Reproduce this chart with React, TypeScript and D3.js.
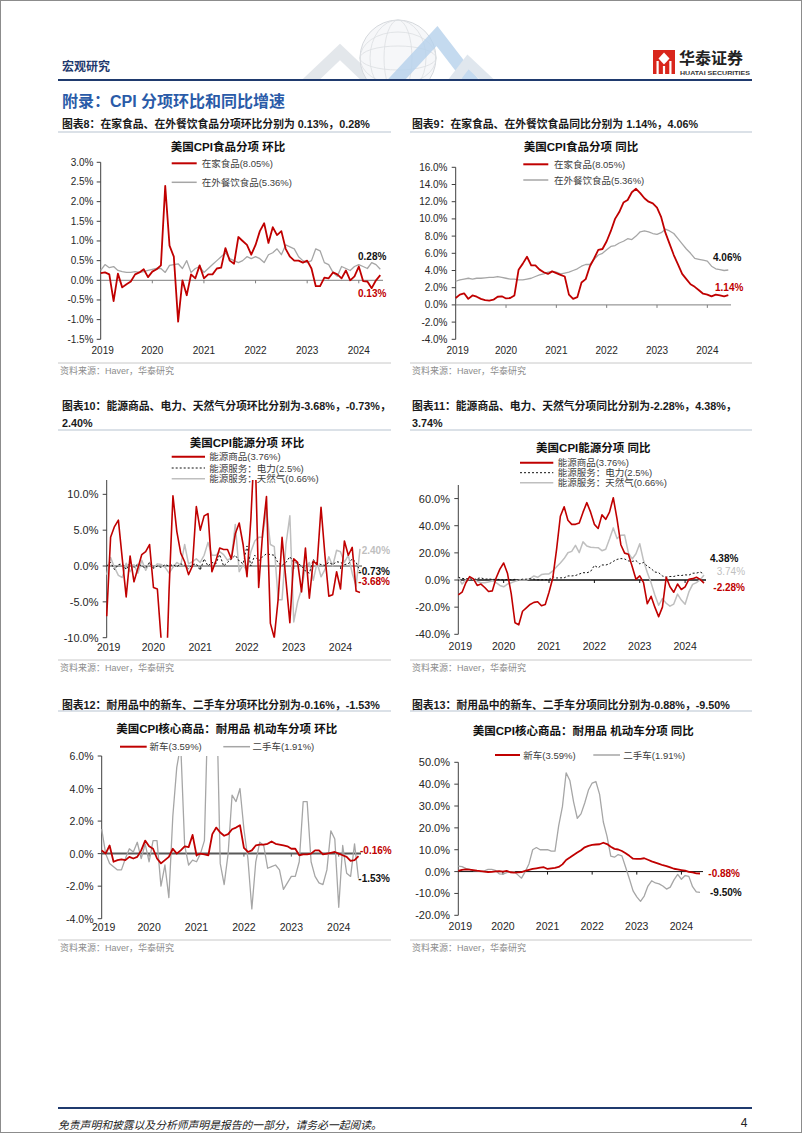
import React from 'react';
import * as d3 from 'd3';

// ---------------- DATA ----------------
const N = 66; // Jan 2019 .. Jun 2024 (monthly)
const YEAR_LABELS = ['2019', '2020', '2021', '2022', '2023', '2024'];

// Chart 8: food MoM (%)
const foodHomeMoM = [
  0.18, 0.2, 0.15, -0.53, 0.17, -0.18, -0.1, -0.03, 0.15, 0.2, 0.28, 0.08,
  0.22, 0.28, 0.38, 2.4, 0.88, 0.6, -1.05, 0.0, -0.38, 0.15, 0.05, 0.38,
  0.05, 0.15, 0.15, 0.3, 0.32, 0.82, 0.5, 0.42, 1.1, 1.0, 0.9, 0.65,
  0.9, 1.25, 1.45, 0.95, 1.35, 1.15, 1.25, 0.8, 0.6, 0.5, 0.5, 0.45,
  0.5, 0.3, -0.15, -0.15, 0.07, 0.05, 0.2, 0.15, 0.05, 0.25, 0.0, 0.1,
  0.35, -0.02, -0.03, -0.2, 0.0, 0.13,
];
const foodAwayMoM = [
  0.25, 0.4, 0.32, 0.35, 0.25, 0.22, 0.2, 0.2, 0.22, 0.2, 0.22, 0.25,
  0.28, 0.3, 0.3, 0.2, 0.38, 0.4, 0.42, 0.3, 0.5, 0.2, 0.3, 0.35,
  0.2, 0.3, 0.4, 0.5, 0.6, 0.7, 0.55, 0.5, 0.45, 0.5, 0.6, 0.55,
  0.6, 0.55, 0.45, 0.65, 0.7, 0.8, 0.65, 0.9, 0.85, 0.8, 0.6, 0.5,
  0.45, 0.5, 0.8, 0.75, 0.45, 0.4, 0.2, 0.1, 0.35, 0.3, 0.25, 0.35,
  0.4, 0.35, 0.3, 0.45, 0.4, 0.28,
];

// Chart 9: food YoY (%)
const foodHomeYoY = [
  0.8, 1.2, 1.35, 0.7, 1.1, 0.95, 0.7, 0.55, 0.5, 0.6, 0.95, 1.0,
  0.75, 0.8, 1.1, 4.1, 4.8, 5.6, 4.6, 4.6, 4.1, 3.8, 3.6, 3.9,
  3.7, 3.5, 3.3, 1.2, 0.7, 0.9, 2.6, 3.0, 4.5, 5.4, 6.4, 6.5,
  7.4, 8.6, 10.0, 10.8, 11.9, 12.2, 13.1, 13.5, 13.0, 12.4, 12.0, 11.8,
  11.3, 10.2, 8.4, 7.1, 5.8, 4.7, 3.6, 3.0, 2.4, 2.1, 1.7, 1.3,
  1.2, 1.0, 1.2, 1.1, 1.0, 1.14,
];
const foodAwayYoY = [
  2.75, 2.9, 3.0, 3.1, 3.0, 3.1, 3.1, 3.15, 3.2, 3.2, 3.3, 3.2,
  3.1, 3.0, 3.0, 2.9, 2.9, 3.0, 3.1, 3.3, 3.5, 3.6, 3.8, 3.9,
  3.8, 3.6, 3.7, 3.8, 4.0, 4.2, 4.5, 4.7, 4.7, 5.3, 5.8, 6.0,
  6.4, 6.8, 6.9, 7.2, 7.4, 7.7, 7.6, 8.0, 8.5, 8.6, 8.5, 8.3,
  8.2, 8.4, 8.8, 8.6, 8.3, 7.7, 7.1, 6.5, 6.0, 5.4, 5.3, 5.2,
  5.1, 4.5, 4.2, 4.1, 4.0, 4.06,
];

// Chart 10: energy MoM (%)
const energyGoodsMoM = [
  -7.0, 4.0, 5.5, 6.4, 1.0, -4.3, 1.4, -2.2, -0.3, 1.6, 2.0, 3.0,
  -3.0, -3.2, -10.5, -20.0, -3.5, 9.8, 4.8, 1.8, 0.6, -1.2, 0.0, 8.3,
  5.0, 7.0, 7.3, -0.8, 0.7, 2.5, 2.3, 2.3, 1.0, 4.5, 6.0, 3.0,
  -1.5, 6.6, 18.0, -3.0, 4.5, 9.7, -8.0, -10.0, -4.6, 4.0, -2.0, -7.9,
  1.0, 0.5, -3.6, 2.5, -4.5, 0.7, 0.2, 8.2, 1.5, -4.2, -4.0, -0.8,
  -3.2, 3.5, 1.5, 2.6, -3.5, -3.68,
];
const electricityMoM = [
  0.0, 0.5, -0.5, 0.2, 0.3, -0.5, 0.5, -0.2, 0.3, 0.0, -0.3, 0.5,
  -0.3, 0.0, -0.2, 0.2, 0.0, 0.2, -0.1, 0.3, 0.1, -0.4, 0.2, 0.3,
  -0.6, 1.0, 0.0, 0.5, 0.3, 1.6, 0.0, 0.5, 1.0, 1.5, 0.7, 0.3,
  2.8, 0.0, 1.5, 0.7, 1.3, 1.7, 1.6, 1.5, 0.4, 0.1, 0.5, 1.3,
  0.5, 0.4, 0.0, -0.7, -1.0, 0.9, 0.4, 0.2, 0.1, 0.5, 0.2, 0.6,
  0.5, 0.2, 0.3, 1.0, 0.5, -0.73,
];
const natGasMoM = [
  -1.2, 1.2, -0.2, -1.3, -1.6, 0.4, -0.8, 0.2, -1.0, 0.8, -0.6, 0.5,
  -0.3, 0.3, 0.2, -0.2, -1.0, -0.2, 0.5, 0.1, 3.0, 0.3, 0.6, 1.0,
  0.5, 1.5, 3.3, 1.5, 1.5, 2.0, 1.6, 0.8, 1.2, 5.8, -0.8, 0.2,
  -0.7, 2.0, 3.5, 4.0, 4.0, 8.0, 3.0, 2.7, -4.7, -4.7, 3.0, 7.0,
  -7.8, -5.0, -3.2, -0.2, 0.5, -2.0, 0.5, -1.5, -0.5, 1.3, 0.0, 2.2,
  2.0, 0.5, 1.5, -1.0, -2.8, 2.4,
];

// Chart 11: energy YoY (%)
const energyGoodsYoY = [
  -11.0, -9.0, -2.0, 2.5, 0.8, -4.0, -3.0, -5.5, -8.5, -8.0, 1.5, 8.0,
  12.5, 5.0, -10.0, -31.5, -33.0, -23.0, -20.5, -18.0, -16.5, -16.0, -19.0, -18.0,
  -9.0, 1.5, 22.5, 47.0, 54.0, 44.0, 41.0, 41.0, 42.0, 50.0, 57.0, 50.0,
  41.0, 38.0, 48.0, 44.7, 50.0, 60.6, 44.9, 26.0, 19.8, 19.0, 10.0, 0.5,
  3.0, -2.0, -17.5, -12.0, -20.0, -27.0, -20.0, 2.0, -5.0, -9.0, -3.0, -7.0,
  -5.0, 0.5, 1.0, 2.0, 0.5, -2.28,
];
const electricityYoY = [
  2.0, 1.2, 0.9, 1.0, 0.2, 1.1, 1.6, 0.6, 0.8, 0.5, 0.5, 0.4,
  0.0, 0.5, 0.2, 0.5, 0.0, 0.6, 0.6, 0.9, 0.6, 0.2, 0.2, 0.2,
  0.4, 2.4, 1.5, 1.6, 1.6, 3.0, 3.0, 3.3, 4.4, 5.4, 5.3, 6.3,
  10.7, 9.0, 11.1, 11.0, 12.0, 13.7, 15.2, 15.8, 15.5, 14.1, 13.7, 14.3,
  11.9, 12.9, 10.2, 8.4, 5.9, 5.4, 3.0, 2.1, 2.6, 2.6, 3.4, 3.3,
  3.8, 3.6, 5.0, 5.1, 5.9, 4.38,
];
const natGasYoY = [
  2.0, -3.0, 0.0, 0.5, 0.5, -1.0, -2.0, -2.0, -1.5, -0.5, -2.0, -4.0,
  -5.0, -3.0, -2.0, -1.0, 0.0, 0.0, 0.0, 1.0, 3.0, 2.0, 4.0, 4.5,
  4.5, 6.7, 9.8, 12.6, 15.8, 20.1, 21.1, 25.5, 20.2, 28.1, 25.1, 24.1,
  23.9, 23.8, 21.6, 22.7, 30.2, 38.4, 30.5, 33.0, 33.1, 20.0, 15.5, 19.3,
  26.7, 14.3, 5.5, -2.1, -11.0, -18.6, -13.7, -17.1, -19.3, -17.7, -10.4, -14.8,
  -17.8, -8.8, -3.2, -1.9, 0.2, 3.74,
];

// Chart 12: vehicles MoM (%)
const newCarMoM = [
  0.2, 0.0, 0.5, -0.5, -0.4, -0.35, -0.4, -0.2, -0.3, -0.2, 0.2, 0.8,
  0.45, 0.3, -0.3, -0.6, -0.4, -0.2, 0.3, 0.0, 0.2, 0.45, 0.4, 1.15,
  -0.1, 0.0, -0.05, -0.1, 1.2, 1.6, 1.3, 1.1, 1.2, 1.5, 1.6, 1.75,
  0.35, 0.1, 0.2, 0.5, 0.55, 0.55, 0.6, 0.75, 0.6, 0.55, 0.5, 0.45,
  0.3, 0.3, -0.1, -0.05, -0.05, 0.0, 0.2, 0.2, -0.05, 0.0, 0.05, 0.1,
  0.0, -0.1, -0.2, -0.45, -0.4, -0.16,
];
const usedCarMoM = [
  1.5, 0.0, -0.6, -0.8, -1.0, -1.0, -0.3, 0.3, 0.1, 0.7, -0.3, 0.6,
  -0.5, 0.8, 0.8, -2.0, -0.7, -2.7, 2.3, 5.3, 6.7, 0.5, -0.7, -0.4,
  -0.5, 0.0, 0.8, 10.0, 7.3, 10.5, -0.6, -1.9, 0.0, 3.6, 3.2, 4.0,
  1.5, -0.3, -3.4, -0.5, 0.7, 0.5, -0.9, -0.8, -0.7, -1.0, -2.2, -1.8,
  -1.4, -1.4, -0.5, 3.2, 3.2, -0.5, -1.4, -1.8, -1.9, -1.0, 1.4, 0.9,
  -3.3, 0.5, -1.2, -1.4, 0.6, -1.53,
];

// Chart 13: vehicles YoY (%)
const newCarYoY = [
  0.3, 0.8, 1.0, 0.9, 0.7, 0.4, 0.2, 0.0, -0.2, -0.1, 0.1, 0.2,
  0.0, 0.3, -0.3, -0.5, -0.4, -0.2, 0.3, 0.8, 1.2, 1.5, 1.8, 2.0,
  1.2, 1.5, 1.7, 2.1, 3.3, 5.3, 6.4, 7.6, 8.7, 9.8, 11.1, 11.8,
  12.2, 12.4, 12.5, 13.2, 12.6, 11.4, 10.4, 10.1, 9.4, 8.4, 7.2, 5.9,
  5.8, 5.8, 6.1, 5.4, 4.7, 4.1, 3.5, 2.9, 2.5, 1.9, 1.3, 1.0,
  0.7, 0.4, -0.1, -0.4, -0.8, -0.88,
];
const usedCarYoY = [
  2.5, 2.3, 1.5, 1.0, 0.5, 0.3, 0.0, 0.3, 1.0, 1.0, 0.5, -1.0,
  -1.2, -0.5, 0.0, 0.0, -1.5, -3.0, 0.0, 3.5, 10.0, 11.0, 10.0, 10.0,
  10.0, 9.4, 9.4, 21.0, 29.7, 45.2, 41.7, 31.9, 24.4, 26.4, 31.4, 37.3,
  40.5, 41.2, 35.3, 22.7, 16.1, 7.1, 6.6, 7.8, 7.2, 2.0, -3.3, -8.8,
  -11.6, -13.6, -11.2, -6.6, -4.2, -5.2, -5.6, -6.6, -8.0, -7.1, -3.8, -1.3,
  -3.5, -1.8, -2.2, -6.9, -9.3, -9.5,
];

// Tick values
const ticks8 = [-1.5, -1.0, -0.5, 0, 0.5, 1.0, 1.5, 2.0, 2.5, 3.0];
const ticks9 = [-4, -2, 0, 2, 4, 6, 8, 10, 12, 14, 16];
const ticks10 = [-10, -5, 0, 5, 10];
const ticks11 = [-40, -20, 0, 20, 40, 60];
const ticks12 = [-4, -2, 0, 2, 4, 6];
const ticks13 = [-20, -10, 0, 10, 20, 30, 40, 50];

// ---------------- STYLE ----------------
const RED = '#c00000';
const GRAY = '#a6a6a6';
const LGRAY = '#bfbfbf';
const NAVY = '#1f3a6e';
const MIX = "'Liberation Sans', Arial, 'Noto Sans CJK SC', sans-serif";
const CJK = "'Noto Sans CJK SC', 'Liberation Sans', sans-serif";

type Series = { data: number[]; color: string; width: number; dash?: string };
type Legend = { label: string; color: string; width: number; dash?: string; lx1: number; lx2: number; ly: number; tx: number };
type EndLabel = { text: string; x: number; y: number; color: string; weight?: string };
type Cfg = {
  id: string;
  x0: number; x1: number; zeroEnd: number;
  yDomain: [number, number]; yBottom: number; yTop: number;
  ticks: number[]; tickRight: number; tickSize: number;
  xLabelY: number; xLabelSize: number;
  zero: { color: string; width: number };
  series: Series[];
  legends: Legend[];
  title: string; titleX: number; titleY: number;
  ends: EndLabel[];
  endSize: number;
};

function Chart({ c }: { c: Cfg }) {
  const x = d3.scaleLinear().domain([0, N - 1]).range([c.x0, c.x1]);
  const y = d3.scaleLinear().domain(c.yDomain).range([c.yBottom, c.yTop]);
  const line = d3.line<number>().x((_, i) => x(i)).y((d) => y(d));
  const clipId = `clip-${c.id}`;
  const y0 = y(0);
  return (
    <g>
      <defs>
        <clipPath id={clipId}>
          <rect x={c.x0 - 1} y={c.yTop} width={c.x1 - c.x0 + 6} height={c.yBottom - c.yTop} />
        </clipPath>
      </defs>
      <text x={c.titleX} y={c.titleY} textAnchor="middle" dominantBaseline="central"
        fontSize={11.5} fontWeight="bold" fontFamily={MIX} fill="#111">{c.title}</text>
      {c.legends.map((l, i) => (
        <g key={i}>
          <line x1={l.lx1} x2={l.lx2} y1={l.ly} y2={l.ly} stroke={l.color} strokeWidth={l.width} strokeDasharray={l.dash} />
          <text x={l.tx} y={l.ly} dominantBaseline="central" fontSize={9.5} fontFamily={MIX} fill="#404040">{l.label}</text>
        </g>
      ))}
      {c.ticks.map((t) => (
        <g key={t}>
          <line x1={c.x0 - 4} x2={c.x0} y1={y(t)} y2={y(t)} stroke="#404040" strokeWidth={1} />
          <text x={c.tickRight} y={y(t)} textAnchor="end" dominantBaseline="central"
            fontSize={c.tickSize} fontFamily={MIX} fill="#262626">{t.toFixed(1) + '%'}</text>
        </g>
      ))}
      <line x1={c.x0} x2={c.x0} y1={c.yTop} y2={c.yBottom} stroke="#404040" strokeWidth={1} />
      <line x1={c.x0} x2={c.zeroEnd} y1={y0} y2={y0} stroke={c.zero.color} strokeWidth={c.zero.width} />
      {YEAR_LABELS.map((lab, k) => (
        <g key={lab}>
          {k > 0 && <line x1={x(12 * k)} x2={x(12 * k)} y1={y0} y2={y0 + 3} stroke={c.zero.color} strokeWidth={1} />}
          <text x={x(12 * k) + (k === 0 ? 2 : 0)} y={c.xLabelY} textAnchor="middle" dominantBaseline="central"
            fontSize={c.xLabelSize} fontFamily={MIX} fill="#262626">{lab}</text>
        </g>
      ))}
      <g clipPath={`url(#${clipId})`}>
        {c.series.map((s, i) => (
          <path key={i} d={line(s.data) || ''} fill="none" stroke={s.color} strokeWidth={s.width}
            strokeDasharray={s.dash} strokeLinejoin="round" />
        ))}
      </g>
      {c.ends.map((e, i) => (
        <text key={i} x={e.x} y={e.y} dominantBaseline="central" fontSize={c.endSize}
          fontWeight={e.weight || 'bold'} fontFamily={MIX} fill={e.color}>{e.text}</text>
      ))}
    </g>
  );
}

const charts: Cfg[] = [
  {
    id: 'c8', x0: 100.7, x1: 380.3, zeroEnd: 383, yDomain: [-1.5, 3], yBottom: 339.3, yTop: 162.3,
    ticks: ticks8, tickRight: 93.5, tickSize: 10, xLabelY: 350, xLabelSize: 10,
    zero: { color: '#7f7f7f', width: 1 },
    series: [
      { data: foodAwayMoM, color: GRAY, width: 1.3 },
      { data: foodHomeMoM, color: RED, width: 1.8 },
    ],
    legends: [
      { label: '在家食品(8.05%)', color: RED, width: 2, lx1: 171.7, lx2: 196.7, ly: 163.3, tx: 201.7 },
      { label: '在外餐饮食品(5.36%)', color: GRAY, width: 1.5, lx1: 171.7, lx2: 196.7, ly: 182.3, tx: 201.7 },
    ],
    title: '美国CPI食品分项 环比', titleX: 228, titleY: 146.7,
    ends: [
      { text: '0.28%', x: 358, y: 256.7, color: '#111' },
      { text: '0.13%', x: 358, y: 293.3, color: RED },
    ],
    endSize: 10,
  },
  {
    id: 'c9', x0: 455.7, x1: 728.3, zeroEnd: 731, yDomain: [-4, 16], yBottom: 339.3, yTop: 167.3,
    ticks: ticks9, tickRight: 447.5, tickSize: 10, xLabelY: 350, xLabelSize: 10,
    zero: { color: '#7f7f7f', width: 1 },
    series: [
      { data: foodAwayYoY, color: GRAY, width: 1.3 },
      { data: foodHomeYoY, color: RED, width: 1.8 },
    ],
    legends: [
      { label: '在家食品(8.05%)', color: RED, width: 2, lx1: 523.3, lx2: 548.3, ly: 164.3, tx: 554 },
      { label: '在外餐饮食品(5.36%)', color: GRAY, width: 1.5, lx1: 523.3, lx2: 548.3, ly: 180, tx: 554 },
    ],
    title: '美国CPI食品分项 同比', titleX: 581, titleY: 146.7,
    ends: [
      { text: '4.06%', x: 713, y: 257.7, color: '#111' },
      { text: '1.14%', x: 715, y: 287.3, color: RED },
    ],
    endSize: 10,
  },
  {
    id: 'c10', x0: 106.7, x1: 360, zeroEnd: 362, yDomain: [-10, 12], yBottom: 637.7, yTop: 480,
    ticks: ticks10, tickRight: 98.5, tickSize: 11, xLabelY: 647, xLabelSize: 10.5,
    zero: { color: '#404040', width: 1 },
    series: [
      { data: natGasMoM, color: LGRAY, width: 1.5 },
      { data: electricityMoM, color: '#111', width: 1, dash: '2,2' },
      { data: energyGoodsMoM, color: RED, width: 1.6 },
    ],
    legends: [
      { label: '能源商品(3.76%)', color: RED, width: 2, lx1: 171.7, lx2: 205, ly: 456.7, tx: 209.3 },
      { label: '能源服务：电力(2.5%)', color: '#111', width: 1, dash: '2,2', lx1: 171.7, lx2: 205, ly: 468, tx: 209.3 },
      { label: '能源服务：天然气(0.66%)', color: LGRAY, width: 1.5, lx1: 171.7, lx2: 205, ly: 478.7, tx: 209.3 },
    ],
    title: '美国CPI能源分项 环比', titleX: 247, titleY: 443.3,
    ends: [
      { text: '2.40%', x: 361.7, y: 550, color: LGRAY },
      { text: '-0.73%', x: 358.3, y: 571.7, color: '#111' },
      { text: '-3.68%', x: 358.3, y: 581.7, color: RED },
    ],
    endSize: 10,
  },
  {
    id: 'c11', x0: 458.3, x1: 704, zeroEnd: 706, yDomain: [-40, 70], yBottom: 634.3, yTop: 485,
    ticks: ticks11, tickRight: 450, tickSize: 11, xLabelY: 646, xLabelSize: 10.5,
    zero: { color: '#111', width: 1.3 },
    series: [
      { data: natGasYoY, color: LGRAY, width: 1.5 },
      { data: electricityYoY, color: '#111', width: 1, dash: '2,2' },
      { data: energyGoodsYoY, color: RED, width: 1.6 },
    ],
    legends: [
      { label: '能源商品(3.76%)', color: RED, width: 2, lx1: 520, lx2: 553.3, ly: 462.7, tx: 557.7 },
      { label: '能源服务：电力(2.5%)', color: '#111', width: 1, dash: '2,2', lx1: 520, lx2: 553.3, ly: 472.7, tx: 557.7 },
      { label: '能源服务：天然气(0.66%)', color: LGRAY, width: 1.5, lx1: 520, lx2: 553.3, ly: 482.7, tx: 557.7 },
    ],
    title: '美国CPI能源分项 同比', titleX: 593.3, titleY: 448.3,
    ends: [
      { text: '4.38%', x: 710, y: 558.3, color: '#111' },
      { text: '3.74%', x: 716.7, y: 571.7, color: LGRAY, weight: 'normal' },
      { text: '-2.28%', x: 713.3, y: 587.3, color: RED },
    ],
    endSize: 10,
  },
  {
    id: 'c12', x0: 101.7, x1: 358.5, zeroEnd: 361, yDomain: [-4, 6], yBottom: 918.7, yTop: 756,
    ticks: ticks12, tickRight: 93.5, tickSize: 10.5, xLabelY: 927, xLabelSize: 10.5,
    zero: { color: '#595959', width: 2 },
    series: [
      { data: usedCarMoM, color: GRAY, width: 1.3 },
      { data: newCarMoM, color: RED, width: 1.8 },
    ],
    legends: [
      { label: '新车(3.59%)', color: RED, width: 2, lx1: 120, lx2: 146.7, ly: 746.7, tx: 149.5 },
      { label: '二手车(1.91%)', color: GRAY, width: 1.5, lx1: 223.3, lx2: 250, ly: 746.7, tx: 252.5 },
    ],
    title: '美国CPI核心商品：耐用品 机动车分项 环比', titleX: 226.7, titleY: 729.3,
    ends: [
      { text: '-0.16%', x: 360, y: 850.7, color: RED },
      { text: '-1.53%', x: 358.3, y: 878.7, color: '#111' },
    ],
    endSize: 10,
  },
  {
    id: 'c13', x0: 458.3, x1: 700, zeroEnd: 703, yDomain: [-20, 50], yBottom: 915.3, yTop: 762.3,
    ticks: ticks13, tickRight: 450, tickSize: 11, xLabelY: 926, xLabelSize: 10.5,
    zero: { color: '#111', width: 1 },
    series: [
      { data: usedCarYoY, color: GRAY, width: 1.3 },
      { data: newCarYoY, color: RED, width: 1.8 },
    ],
    legends: [
      { label: '新车(3.59%)', color: RED, width: 2, lx1: 495, lx2: 520, ly: 755, tx: 523.3 },
      { label: '二手车(1.91%)', color: GRAY, width: 1.5, lx1: 593.3, lx2: 620, ly: 755, tx: 623.3 },
    ],
    title: '美国CPI核心商品：耐用品 机动车分项 同比', titleX: 583.3, titleY: 731,
    ends: [
      { text: '-0.88%', x: 708.3, y: 873.3, color: RED },
      { text: '-9.50%', x: 710, y: 892.3, color: '#111' },
    ],
    endSize: 10,
  },
];

const panelTitles = [
  { lines: ['图表8：在家食品、在外餐饮食品分项环比分别为 0.13%，0.28%'], x: 62, y: 124 },
  { lines: ['图表9：在家食品、在外餐饮食品同比分别为 1.14%，4.06%'], x: 412, y: 124 },
  { lines: ['图表10：能源商品、电力、天然气分项环比分别为-3.68%，-0.73%，', '2.40%'], x: 62, y: 406 },
  { lines: ['图表11：能源商品、电力、天然气分项同比分别为-2.28%，4.38%，', '3.74%'], x: 412, y: 406 },
  { lines: ['图表12：耐用品中的新车、二手车分项环比分别为-0.16%，-1.53%'], x: 62, y: 705 },
  { lines: ['图表13：耐用品中的新车、二手车分项同比分别为-0.88%，-9.50%'], x: 412, y: 705 },
];
const titleRules = [132, 430, 711];
const sourceRules = [{ line: 363, text: 371 }, { line: 660, text: 668 }, { line: 940, text: 948 }];

function Header() {
  return (
    <g>
      <defs>
        <clipPath id="hdrclip"><rect x={280} y={10} width={260} height={69} /></clipPath>
      </defs>
      <g clipPath="url(#hdrclip)" opacity={0.85}>
        <polyline points="300,90 340,52 380,90" fill="none" stroke="#dfe3e8" strokeWidth={12} />
        <circle cx={398} cy={58} r={38} fill="#f5f6f8" stroke="#cfd3d8" strokeWidth={1} />
        <ellipse cx={398} cy={58} rx={14} ry={38} fill="none" stroke="#d6d9dd" strokeWidth={0.8} />
        <ellipse cx={398} cy={58} rx={28} ry={38} fill="none" stroke="#d6d9dd" strokeWidth={0.8} />
        <ellipse cx={398} cy={58} rx={38} ry={12} fill="none" stroke="#d6d9dd" strokeWidth={0.8} />
        <ellipse cx={398} cy={58} rx={38} ry={26} fill="none" stroke="#d6d9dd" strokeWidth={0.8} />
        <polyline points="385,92 437,36 480,92" fill="none" stroke="#a9c9e8" strokeWidth={13} opacity={0.8} />
        <polyline points="445,92 468,62 500,92" fill="none" stroke="#dbe3ec" strokeWidth={10} />
      </g>
      <text x={62} y={65} dominantBaseline="central" fontSize={12} fontWeight="bold" fontFamily={CJK} fill={NAVY}>宏观研究</text>
      {/* logo */}
      <rect x={653} y={50} width={22} height={24} fill="#d9261c" />
      <polygon points="664,52.5 669.5,58.5 664,64.5 658.5,58.5" fill="#fff" />
      <rect x={656.5} y={61} width={2.2} height={13} fill="#fff" />
      <rect x={669.3} y={61} width={2.2} height={13} fill="#fff" />
      <rect x={662.9} y={66} width={2.2} height={8} fill="#fff" />
      <text x={679} y={57} dominantBaseline="central" fontSize={16} fontWeight="bold" fontFamily={CJK} fill="#222">华泰证券</text>
      <text x={680} y={72.5} dominantBaseline="central" fontSize={6} fontWeight="bold" fontFamily={MIX} fill="#333"
        textLength={70} lengthAdjust="spacingAndGlyphs">HUATAI SECURITIES</text>
      <line x1={58} x2={752} y1={80} y2={80} stroke={NAVY} strokeWidth={2} />
      <text x={62} y={101} dominantBaseline="central" fontSize={16} fontWeight="bold" fontFamily={MIX} fill="#2a5ba8">附录：CPI 分项环比和同比增速</text>
    </g>
  );
}

export default function App() {
  return (
    <svg width={802} height={1133} viewBox="0 0 802 1133"
      style={{ position: 'absolute', left: 0, top: 0, background: '#fff', display: 'block' }}>
      <rect x={0} y={0} width={802} height={1133} fill="#fff" />
      <rect x={0.5} y={0.5} width={801} height={1132} fill="none" stroke="#8c8c8c" strokeWidth={1} />
      <Header />
      {panelTitles.map((p, i) => (
        <g key={i}>
          {p.lines.map((ln, j) => (
            <text key={j} x={p.x} y={p.y + j * 17} dominantBaseline="central" fontSize={10.8} fontWeight="bold"
              fontFamily={MIX} fill="#1a1a1a">{ln}</text>
          ))}
        </g>
      ))}
      {titleRules.map((yy, i) => (
        <g key={i}>
          <line x1={58} x2={391} y1={yy} y2={yy} stroke="#b7c3d0" strokeWidth={1} />
          <line x1={410} x2={752} y1={yy} y2={yy} stroke="#b7c3d0" strokeWidth={1} />
        </g>
      ))}
      {sourceRules.map((s, i) => (
        <g key={i}>
          <line x1={58} x2={391} y1={s.line} y2={s.line} stroke="#c8c8c8" strokeWidth={1} />
          <line x1={410} x2={752} y1={s.line} y2={s.line} stroke="#c8c8c8" strokeWidth={1} />
          <text x={60} y={s.text} dominantBaseline="central" fontSize={9} fontFamily={MIX} fill="#8c8c8c">资料来源：Haver，华泰研究</text>
          <text x={412} y={s.text} dominantBaseline="central" fontSize={9} fontFamily={MIX} fill="#8c8c8c">资料来源：Haver，华泰研究</text>
        </g>
      ))}
      {charts.map((c) => <Chart key={c.id} c={c} />)}
      {/* footer */}
      <line x1={58} x2={752} y1={1108} y2={1108} stroke={NAVY} strokeWidth={2} />
      <text x={58} y={1124} dominantBaseline="central" fontSize={10.8} fontStyle="italic" fontFamily={CJK} fill="#222">免责声明和披露以及分析师声明是报告的一部分，请务必一起阅读。</text>
      <text x={744} y={1123} dominantBaseline="central" fontSize={12} fontFamily={MIX} fill="#222" textAnchor="middle">4</text>
    </svg>
  );
}
